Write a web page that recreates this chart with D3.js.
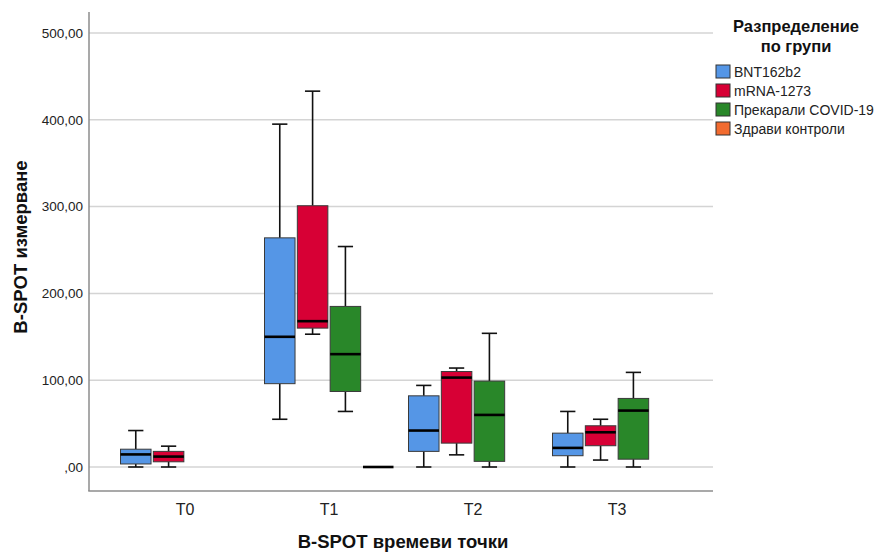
<!DOCTYPE html>
<html>
<head>
<meta charset="utf-8">
<script src="https://cdn.jsdelivr.net/npm/d3@7/dist/d3.min.js"></script>
<style>
  html, body { margin: 0; padding: 0; background: #fff; }
  svg { display: block; font-family: "Liberation Sans", Arial, sans-serif; }
</style>
</head>
<body>
<svg id="chart" width="878" height="554"></svg>
<script>
// Time points on the x axis and the four study groups
const timePoints = ["T0", "T1", "T2", "T3"];
const groups = ["BNT162b2", "mRNA-1273", "Прекарали COVID-19", "Здрави контроли"];
const groupColors = ["#5596e6", "#d70035", "#298729", "#f26b2f"];

// Box summaries per time point: [min, q1, median, q3, max]; null = no data
const bnt162b2 = [[0, 3.5, 14.5, 20.5, 42], [55, 96, 150, 264, 395], [0, 18, 42, 82, 94], [0, 13, 22, 39, 64]];
const mrna1273 = [[0, 6, 12, 18, 24], [153, 160, 168, 301, 433], [14, 27.5, 103, 110, 114], [8, 24.5, 40, 47.5, 55]];
const covid19 = [null, [64, 87, 130, 185, 254], [0, 6.5, 60, 99, 154], [0, 9, 65, 79, 109]];
const controls = [null, [0, 0, 0, 0, 0], null, null];

const yTicks = [0, 100, 200, 300, 400, 500];
const seriesStats = [bnt162b2, mrna1273, covid19, controls];

const svg = d3.select("#chart");
const plot = { left: 89, right: 713, top: 12, bottom: 491 };

const y = d3.scaleLinear().domain([0, 500]).range([467, 33]);
const x = d3.scaleBand().domain(timePoints).range([plot.left, plot.right])
  .paddingInner(0).paddingOuter(0.1667);
const xSub = d3.scaleBand().domain(groups).range([7.5, x.bandwidth() - 7.5]).paddingInner(0.07);

const fmt = v => (v === 0 ? ",00" : v + ",00");

// horizontal gridlines
svg.append("g").selectAll("line").data(yTicks).join("line")
  .attr("x1", plot.left).attr("x2", plot.right)
  .attr("y1", d => y(d)).attr("y2", d => y(d))
  .attr("stroke", "#d4d4d4").attr("stroke-width", 1.5);

// y axis
const yAxis = svg.append("g").attr("transform", `translate(${plot.left},0)`)
  .call(d3.axisLeft(y).tickValues(yTicks).tickFormat(fmt).tickSize(0).tickPadding(6));
yAxis.select(".domain").remove();
yAxis.selectAll("text").attr("font-size", 13.5).attr("fill", "#222")
  .style("font-family", "'Liberation Sans', Arial, sans-serif");

// x axis
const xAxis = svg.append("g").attr("transform", `translate(0,${plot.bottom})`)
  .call(d3.axisBottom(x).tickSize(0).tickPadding(13));
xAxis.select(".domain").remove();
xAxis.selectAll("text").attr("font-size", 16).attr("fill", "#222")
  .style("font-family", "'Liberation Sans', Arial, sans-serif");

// axis lines
svg.append("line").attr("x1", plot.left).attr("x2", plot.left)
  .attr("y1", plot.top).attr("y2", plot.bottom)
  .attr("stroke", "#8c8c8c").attr("stroke-width", 1.5);
svg.append("line").attr("x1", plot.left - 0.75).attr("x2", plot.right)
  .attr("y1", plot.bottom).attr("y2", plot.bottom)
  .attr("stroke", "#8c8c8c").attr("stroke-width", 1.5);

// flatten box records
const boxes = [];
groups.forEach((g, gi) => {
  seriesStats[gi].forEach((s, ti) => {
    if (s) boxes.push({ group: g, color: groupColors[gi], time: timePoints[ti],
      min: s[0], q1: s[1], med: s[2], q3: s[3], max: s[4] });
  });
});

const bw = xSub.bandwidth();
const boxG = svg.append("g").selectAll("g").data(boxes).join("g")
  .attr("transform", d => `translate(${x(d.time) + xSub(d.group)},0)`);

// whiskers
boxG.append("line").attr("x1", bw / 2).attr("x2", bw / 2)
  .attr("y1", d => y(d.max)).attr("y2", d => y(d.q3))
  .attr("stroke", "#111").attr("stroke-width", 1.6);
boxG.append("line").attr("x1", bw / 2).attr("x2", bw / 2)
  .attr("y1", d => y(d.q1)).attr("y2", d => y(d.min))
  .attr("stroke", "#111").attr("stroke-width", 1.6);
boxG.filter(d => d.max !== d.q3).append("line").attr("x1", bw / 4).attr("x2", bw * 3 / 4)
  .attr("y1", d => y(d.max)).attr("y2", d => y(d.max))
  .attr("stroke", "#111").attr("stroke-width", 1.6);
boxG.filter(d => d.min !== d.q1).append("line").attr("x1", bw / 4).attr("x2", bw * 3 / 4)
  .attr("y1", d => y(d.min)).attr("y2", d => y(d.min))
  .attr("stroke", "#111").attr("stroke-width", 1.6);

// boxes
boxG.append("rect").attr("x", 0).attr("width", bw)
  .attr("y", d => y(d.q3)).attr("height", d => y(d.q1) - y(d.q3))
  .attr("fill", d => d.color).attr("stroke", "#3a3a3a").attr("stroke-width", 1);

// medians
boxG.append("line").attr("x1", 0).attr("x2", bw)
  .attr("y1", d => y(d.med)).attr("y2", d => y(d.med))
  .attr("stroke", "#000").attr("stroke-width", 2.6);

// axis titles
svg.append("text").attr("transform", "translate(27,247) rotate(-90)")
  .attr("text-anchor", "middle").attr("font-size", 18.5).attr("font-weight", "bold")
  .attr("fill", "#111").text("B-SPOT измерване");
svg.append("text").attr("x", 403).attr("y", 548)
  .attr("text-anchor", "middle").attr("font-size", 18.5).attr("font-weight", "bold")
  .attr("fill", "#111").text("B-SPOT времеви точки");

// legend
const legend = svg.append("g");
legend.append("text").attr("x", 796).attr("y", 32).attr("text-anchor", "middle")
  .attr("font-size", 16.5).attr("font-weight", "bold").attr("fill", "#111").text("Разпределение");
legend.append("text").attr("x", 796).attr("y", 51.5).attr("text-anchor", "middle")
  .attr("font-size", 16.5).attr("font-weight", "bold").attr("fill", "#111").text("по групи");
const items = legend.selectAll("g.item").data(groups).join("g").attr("class", "item")
  .attr("transform", (d, i) => `translate(716,${65 + i * 19})`);
items.append("rect").attr("width", 14).attr("height", 13)
  .attr("fill", (d, i) => groupColors[i]).attr("stroke", "#333").attr("stroke-width", 1);
items.append("text").attr("x", 18).attr("y", 11.5).attr("font-size", 14)
  .attr("fill", "#222").text(d => d);
</script>
</body>
</html>
